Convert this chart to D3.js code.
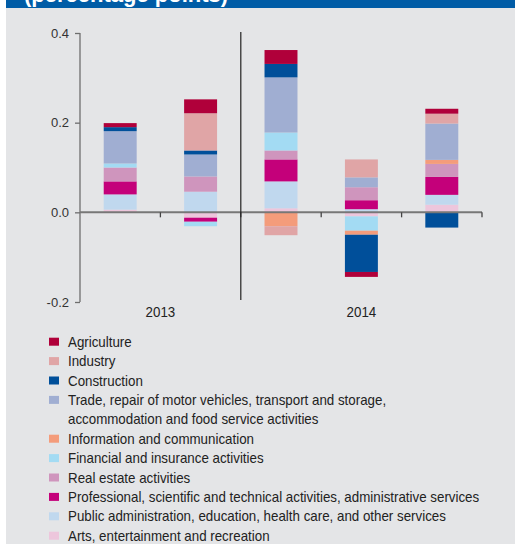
<!DOCTYPE html>
<html>
<head>
<meta charset="utf-8">
<script src="https://cdn.jsdelivr.net/npm/d3@7"></script>
<style>
  html, body { margin: 0; padding: 0; background: #ffffff; }
  svg { display: block; }
</style>
</head>
<body>
<svg id="chart" width="515" height="544"></svg>
<script>
// ---- Data ----
const categories = ["2013 Q3", "2013 Q4", "2014 Q1", "2014 Q2", "2014 Q3"];
const groups = [
  { label: "2013", from: 0, to: 1 },
  { label: "2014", from: 2, to: 4 }
];
const seriesNames = [
  "Agriculture",
  "Industry",
  "Construction",
  "Trade, repair of motor vehicles, transport and storage,|accommodation and food service activities",
  "Information and communication",
  "Financial and insurance activities",
  "Real estate activities",
  "Professional, scientific and technical activities, administrative services",
  "Public administration, education, health care, and other services",
  "Arts, entertainment and recreation"
];
const seriesColors = ["#b0003a", "#e0a5a6", "#004f9a", "#a0aed2", "#f49c7b",
                      "#a3dbf3", "#cf95bd", "#c4007a", "#c0d8ee", "#edc6dc"];
const agriculture   = [0.009, 0.031, 0.031, -0.011, 0.011];
const industry      = [0.000, 0.083, -0.020, 0.040, 0.022];
const construction  = [0.009, 0.009, 0.030, -0.083, -0.034];
const trade         = [0.072, 0.049, 0.123, 0.022, 0.081];
const information   = [0.000, 0.000, -0.031, -0.009, 0.009];
const financial     = [0.009, -0.010, 0.040, -0.032, 0.000];
const realEstate    = [0.031, 0.034, 0.020, 0.029, 0.029];
const professional  = [0.029, -0.009, 0.049, 0.020, 0.040];
const publicAdmin   = [0.034, 0.046, 0.060, 0.007, 0.022];
const arts          = [0.006, -0.012, 0.009, -0.009, 0.017];
const seriesValues = [agriculture, industry, construction, trade, information,
                      financial, realEstate, professional, publicAdmin, arts];
const yTicks = [-0.2, 0.0, 0.2, 0.4];
const headerText = "(percentage points)";

// ---- Build table ----
const keys = seriesNames.map((d, i) => "s" + i);
const table = categories.map((c, ci) => {
  const row = { cat: c };
  keys.forEach((k, si) => row[k] = seriesValues[si][ci]);
  return row;
});
// stack from the zero line outward: last legend item closest to zero
const stackKeys = keys.slice().reverse();
const stacked = d3.stack().keys(stackKeys).offset(d3.stackOffsetDiverging)(table);

const svg = d3.select("#chart");
const narrow = 0.92;

// background panel
svg.append("rect").attr("x", 6).attr("y", 0).attr("width", 509).attr("height", 544).attr("fill", "#e4e5e7");
svg.append("rect").attr("x", 6).attr("y", 0).attr("width", 509).attr("height", 8).attr("fill", "#005ca6");
svg.append("text").attr("x", 24).attr("y", 2)
  .attr("font-family", "Liberation Sans, Arial, sans-serif").attr("font-weight", "bold")
  .attr("font-size", 22).attr("fill", "#ffffff").text(headerText);

// scales
const x = d3.scaleBand().domain(categories).range([80, 482]).paddingInner(0.59).paddingOuter(0.295);
const y = d3.scaleLinear().domain([-0.2, 0.4]).range([302, 33]);
const color = d3.scaleOrdinal().domain(keys).range(seriesColors);

// bars
svg.append("g").selectAll("g").data(stacked).join("g")
  .attr("fill", d => color(d.key))
  .selectAll("rect").data(d => d).join("rect")
  .attr("x", d => x(d.data.cat))
  .attr("width", x.bandwidth())
  .attr("y", d => y(Math.max(d[0], d[1])))
  .attr("height", d => Math.abs(y(d[0]) - y(d[1])));

// y axis
const yAxis = svg.append("g").attr("transform", "translate(80,0)")
  .call(d3.axisLeft(y).tickValues(yTicks).tickFormat(d => d.toFixed(1)).tickSize(5).tickPadding(6));
yAxis.select(".domain").attr("stroke", "#6e6e6e").attr("stroke-width", 1.3)
  .attr("d", `M0,${y(0.4)}V${y(-0.2)}`);
yAxis.selectAll(".tick line").attr("stroke", "#6e6e6e").attr("stroke-width", 1.3);
yAxis.selectAll(".tick text").attr("fill", "#333").attr("font-size", 13)
  .attr("font-family", "Liberation Sans, Arial, sans-serif");

// zero line
const step = x.step();
const boundaries = categories.map(c => x(c) + x.bandwidth() / 2 + step / 2);
svg.append("line").attr("x1", 80).attr("x2", boundaries[boundaries.length - 1])
  .attr("y1", y(0)).attr("y2", y(0)).attr("stroke", "#777").attr("stroke-width", 2);
// category ticks
svg.append("g").selectAll("line").data(boundaries).join("line")
  .attr("x1", d => d).attr("x2", d => d)
  .attr("y1", y(0)).attr("y2", y(0) + 5)
  .attr("stroke", "#444").attr("stroke-width", 1.3);

// separator between years
const sepX = x(categories[groups[1].from]) - (step - x.bandwidth()) / 2;
svg.append("line").attr("x1", sepX).attr("x2", sepX).attr("y1", 32).attr("y2", 300)
  .attr("stroke", "#222").attr("stroke-width", 1.2);

// group labels
svg.append("g").selectAll("text").data(groups).join("text")
  .attr("transform", g => `translate(${(x(categories[g.from]) + x(categories[g.to]) + x.bandwidth()) / 2},316.5) scale(${narrow},1)`)
  .attr("text-anchor", "middle")
  .attr("font-family", "Liberation Sans Narrow, Arial Narrow, Liberation Sans, sans-serif")
  .attr("font-size", 14.5).attr("fill", "#222")
  .text(g => g.label);

// legend
const rowH = 19.4;
let row = 0;
const leg = svg.append("g");
seriesNames.forEach((name, i) => {
  const top = 337.7 + row * rowH;
  leg.append("rect").attr("x", 49).attr("y", top).attr("width", 10).attr("height", 8)
    .attr("fill", seriesColors[i]);
  name.split("|").forEach((line, li) => {
    leg.append("text")
      .attr("transform", `translate(68,${top + 9 + li * rowH}) scale(${narrow},1)`)
      .attr("font-family", "Liberation Sans Narrow, Arial Narrow, Liberation Sans, sans-serif")
      .attr("font-size", 14.5).attr("fill", "#222").text(line);
  });
  row += name.split("|").length;
});
</script>
</body>
</html>
